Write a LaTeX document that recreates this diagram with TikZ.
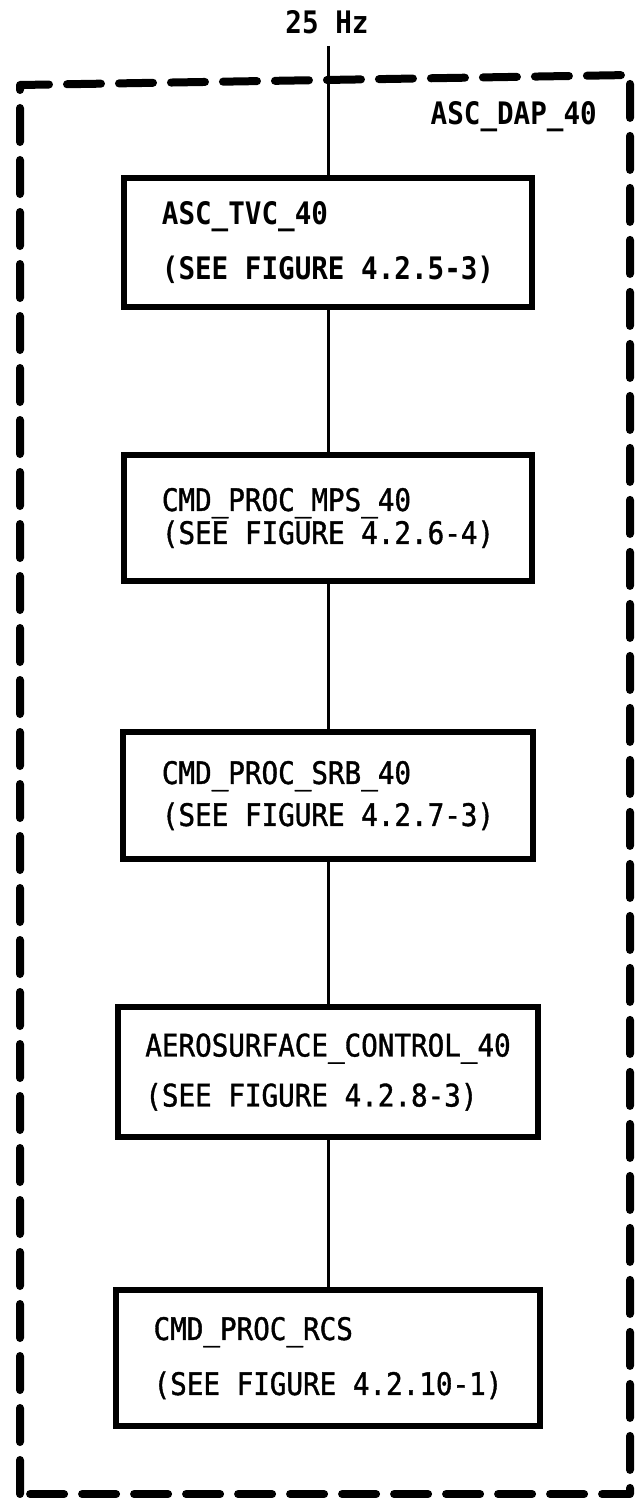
\documentclass[tikz,border=0pt]{standalone}
\usepackage{fontspec}
\setmainfont[FakeStretch=0.89,
  UprightFeatures={FakeBold=1.2}]{DejaVu Sans Mono}
\usepackage{tikz}
\usetikzlibrary{positioning}

\begin{document}
\begin{tikzpicture}[x=1pt,y=-1pt,
    task/.style={draw=black, line width=6pt, align=left,
                  font=\fontsize{31}{33}\selectfont, inner sep=0pt},
    heavy/.style={font=\fontsize{31}{33}\selectfont\bfseries},
    frame/.style={line width=8pt, line cap=round, line join=round,
                  dash pattern=on 34pt off 18pt},
    wire/.style={line width=3pt},
  ]
    \useasboundingbox (0,0) rectangle (634,1498);

    % --- enclosing dashed frame -------------------------------------------
    \draw[frame] (20,1494) -- (20,85) -- (630,75) -- (630,1494) -- cycle;
    \node[heavy, anchor=base east, inner sep=0pt] (tag) at (597,125) {ASC\_DAP\_40};

    % --- rate input -------------------------------------------------------
    \node[heavy, inner sep=0pt] (hz) at (327,22) {25 Hz};
    \coordinate (in) at (328,46);

    % --- five tasks, top to bottom ----------------------------------------
    \node[task, heavy, minimum width=408pt, minimum height=129pt] (b1) at (328,242.5)
        {ASC\_TVC\_40\\[22pt](SEE FIGURE 4.2.5-3)};
    \node[task, minimum width=408pt, minimum height=126pt] (b2) at (328,518)
        {CMD\_PROC\_MPS\_40\\(SEE FIGURE 4.2.6-4)};
    \node[task, minimum width=410pt, minimum height=127pt] (b3) at (328,795.5)
        {CMD\_PROC\_SRB\_40\\[9pt](SEE FIGURE 4.2.7-3)};
    \node[task, minimum width=420pt, minimum height=130pt] (b4) at (328,1072)
        {AEROSURFACE\_CONTROL\_40\\[17pt](SEE FIGURE 4.2.8-3)};
    \node[task, minimum width=424pt, minimum height=136pt] (b5) at (328,1358)
        {CMD\_PROC\_RCS\\[22pt](SEE FIGURE 4.2.10-1)};

    % --- single vertical chain --------------------------------------------
    \draw[wire] (in) -- (b1.north);
    \draw[wire] (b1) -- (b2);  \draw[wire] (b2) -- (b3);
    \draw[wire] (b3) -- (b4);  \draw[wire] (b4) -- (b5);
\end{tikzpicture}
\end{document}
